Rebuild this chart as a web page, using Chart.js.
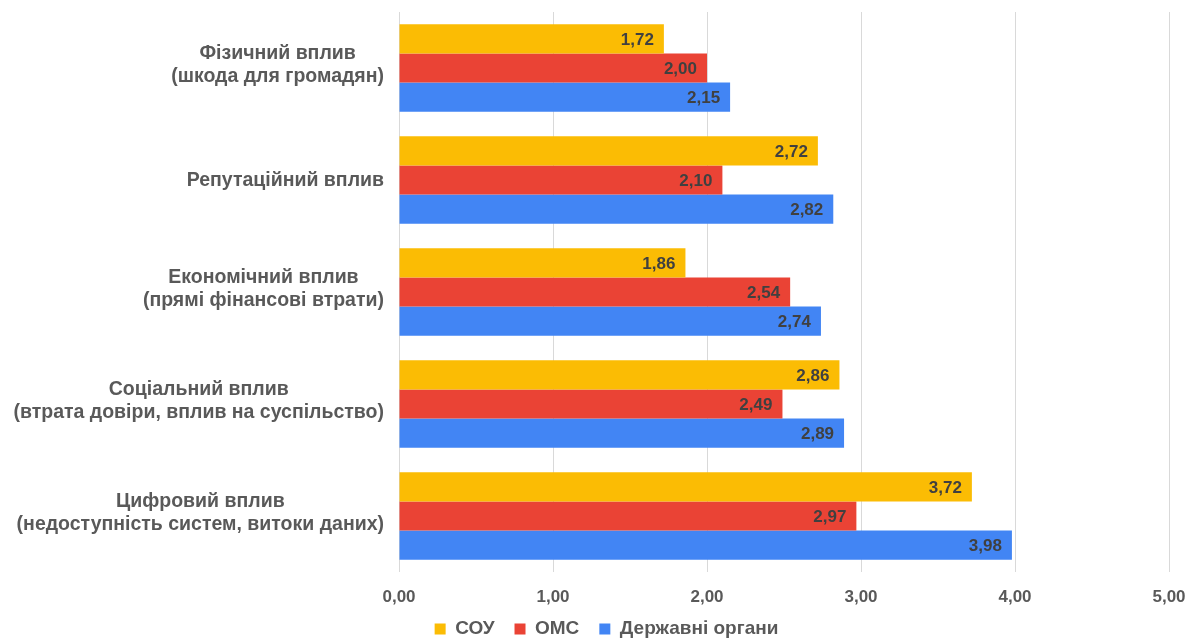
<!DOCTYPE html>
<html>
<head>
<meta charset="utf-8">
<script src="https://cdn.jsdelivr.net/npm/chart.js@4/dist/chart.umd.min.js"></script>
<style>
html,body{margin:0;padding:0;background:#fff;}
#wrap{width:1189px;height:640px;position:relative;}
</style>
</head>
<body>
<div id="wrap"><canvas id="c"></canvas></div>
<script>
const categories = [
  ["Фізичний вплив", "(шкода для громадян)"],
  ["Репутаційний вплив"],
  ["Економічний вплив", "(прямі фінансові втрати)"],
  ["Соціальний вплив", "(втрата довіри, вплив на суспільство)"],
  ["Цифровий вплив", "(недоступність систем, витоки даних)"]
];
const seriesNames = ["СОУ", "ОМС", "Державні органи"];
const souValues = [1.72, 2.72, 1.86, 2.86, 3.72];
const omsValues = [2.00, 2.10, 2.54, 2.49, 2.97];
const govValues = [2.15, 2.82, 2.74, 2.89, 3.98];
const xTicks = [0, 1, 2, 3, 4, 5];

const colors = ["#FBBC04", "#EA4335", "#4285F4"];
const FONT = "'Liberation Sans', Arial, sans-serif";
const fmt = v => Number(v).toFixed(2).replace('.', ',');

const legendSizePlugin = {
  id: 'legendSize',
  afterInit(chart) {
    const lg = chart.legend;
    if (!lg) return;
    const orig = lg.fit.bind(lg);
    lg.fit = function () { orig(); this.height = 32; };
  },
  afterLayout(chart) {
    const lg = chart.legend;
    if (!lg) return;
    lg.top -= 8.5;
    lg.bottom = chart.height;
    lg.left += 22;
    lg.right += 22;
  }
};

const yLabelPlugin = {
  id: 'yLabels',
  afterDraw(chart) {
    const ctx = chart.ctx;
    const y = chart.scales.y;
    ctx.save();
    ctx.font = "bold 19.5px " + FONT;
    ctx.fillStyle = "#595959";
    ctx.textBaseline = "middle";
    ctx.textAlign = "center";
    const lh = 23;
    const right = chart.chartArea.left - 15;
    categories.forEach((lines, i) => {
      const cy = y.getPixelForValue(i) + (lines.length > 1 ? -3 : 1);
      const maxW = Math.max(...lines.map(l => ctx.measureText(l).width));
      const cx = right - maxW / 2;
      const start = cy - (lines.length - 1) * lh / 2;
      lines.forEach((l, j) => ctx.fillText(l, cx, start + j * lh));
    });
    ctx.restore();
  }
};

const valueLabelPlugin = {
  id: 'valueLabels',
  afterDatasetsDraw(chart) {
    const ctx = chart.ctx;
    ctx.save();
    ctx.font = "bold 17px " + FONT;
    ctx.fillStyle = "#404040";
    ctx.textAlign = "right";
    ctx.textBaseline = "middle";
    chart.data.datasets.forEach((ds, di) => {
      const meta = chart.getDatasetMeta(di);
      meta.data.forEach((bar, i) => {
        ctx.fillText(fmt(ds.data[i]), bar.x - 10, bar.y + 1);
      });
    });
    ctx.restore();
  }
};

new Chart(document.getElementById('c'), {
  type: 'bar',
  data: {
    labels: categories.map(c => c.join(' ')),
    datasets: [
      { label: seriesNames[0], data: souValues, backgroundColor: colors[0] },
      { label: seriesNames[1], data: omsValues, backgroundColor: colors[1] },
      { label: seriesNames[2], data: govValues, backgroundColor: colors[2] }
    ]
  },
  options: {
    indexAxis: 'y',
    responsive: true,
    maintainAspectRatio: false,
    animation: false,
    datasets: { bar: { categoryPercentage: 0.78, barPercentage: 1.0, borderWidth: 0 } },
    layout: { padding: { top: 12, right: 20, left: 0, bottom: 0 } },
    plugins: {
      tooltip: { enabled: false },
      legend: {
        position: 'bottom',
        labels: {
          boxWidth: 11, boxHeight: 11, padding: 20,
          color: "#595959",
          font: { family: FONT, size: 19, weight: 'bold' }
        }
      }
    },
    scales: {
      x: {
        min: 0, max: 5,
        afterBuildTicks(scale) { scale.ticks = xTicks.map(v => ({ value: v })); },
        afterFit(scale) { scale.height = 36; },
        grid: { color: "#d9d9d9", lineWidth: 1, drawTicks: true, tickLength: 15, tickColor: 'rgba(0,0,0,0)' },
        border: { display: false },
        ticks: {
          padding: 0,
          color: "#595959",
          font: { family: FONT, size: 17, weight: 'bold' },
          callback: v => fmt(v)
        }
      },
      y: {
        grid: { display: false },
        border: { display: false },
        ticks: { display: false },
        afterFit(scale) { scale.width = 399; }
      }
    }
  },
  plugins: [legendSizePlugin, yLabelPlugin, valueLabelPlugin]
});
</script>
</body>
</html>
